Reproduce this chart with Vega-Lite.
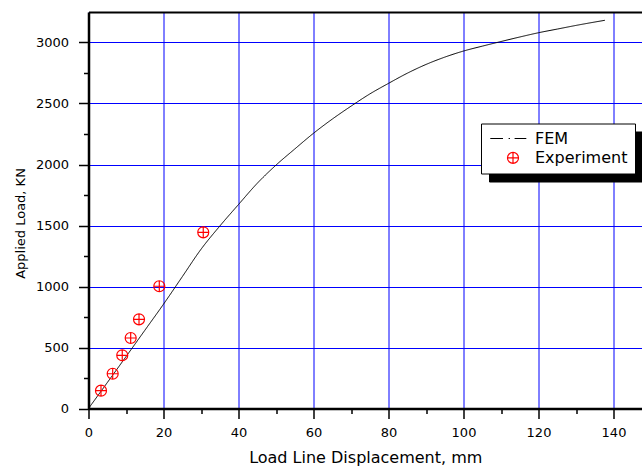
{
  "$schema": "https://vega.github.io/schema/vega-lite/v6.json",
  "width": 553.5,
  "height": 396.5,
  "autosize": {"type": "none"},
  "padding": {"left": 88.5, "top": 12, "right": 0, "bottom": 64.5},
  "background": "white",
  "config": {"view": {"stroke": null}, "font": "DejaVu Sans"},
  "datasets": {
    "fem": [
      {"disp": 0, "load": 0, "series": "FEM"},
      {"disp": 5, "load": 212, "series": "FEM"},
      {"disp": 10, "load": 425, "series": "FEM"},
      {"disp": 15, "load": 640, "series": "FEM"},
      {"disp": 20, "load": 855, "series": "FEM"},
      {"disp": 25, "load": 1080, "series": "FEM"},
      {"disp": 30, "load": 1305, "series": "FEM"},
      {"disp": 35, "load": 1495, "series": "FEM"},
      {"disp": 40, "load": 1672, "series": "FEM"},
      {"disp": 45, "load": 1846, "series": "FEM"},
      {"disp": 50, "load": 1995, "series": "FEM"},
      {"disp": 55, "load": 2127, "series": "FEM"},
      {"disp": 60, "load": 2256, "series": "FEM"},
      {"disp": 65, "load": 2372, "series": "FEM"},
      {"disp": 70, "load": 2478, "series": "FEM"},
      {"disp": 75, "load": 2578, "series": "FEM"},
      {"disp": 80, "load": 2665, "series": "FEM"},
      {"disp": 85, "load": 2748, "series": "FEM"},
      {"disp": 90, "load": 2820, "series": "FEM"},
      {"disp": 95, "load": 2880, "series": "FEM"},
      {"disp": 100, "load": 2930, "series": "FEM"},
      {"disp": 105, "load": 2970, "series": "FEM"},
      {"disp": 110, "load": 3008, "series": "FEM"},
      {"disp": 115, "load": 3045, "series": "FEM"},
      {"disp": 120, "load": 3080, "series": "FEM"},
      {"disp": 125, "load": 3110, "series": "FEM"},
      {"disp": 130, "load": 3140, "series": "FEM"},
      {"disp": 137.7, "load": 3182, "series": "FEM"}
    ],
    "exp": [
      {"disp": 3.33, "load": 146, "series": "Experiment"},
      {"disp": 6.45, "load": 285, "series": "Experiment"},
      {"disp": 9.0, "load": 436, "series": "Experiment"},
      {"disp": 11.25, "load": 578, "series": "Experiment"},
      {"disp": 13.47, "load": 731, "series": "Experiment"},
      {"disp": 18.88, "load": 1002, "series": "Experiment"},
      {"disp": 30.6, "load": 1444, "series": "Experiment"}
    ]
  },
  "encoding": {
    "x": {
      "field": "disp", "type": "quantitative",
      "scale": {"domain": [0, 147.6], "nice": false, "zero": false},
      "axis": {
        "title": "Load Line Displacement, mm",
        "values": [0, 10, 20, 30, 40, 50, 60, 70, 80, 90, 100, 110, 120, 130, 140],
        "labelExpr": "datum.value % 20 === 0 ? datum.label : ''",
        "format": "d",
        "grid": true,
        "gridColor": "#0000ff",
        "gridWidth": 1,
        "gridOpacity": {"condition": {"test": "datum.value % 20 === 0", "value": 1}, "value": 0},
        "tickSize": {"condition": {"test": "datum.value % 20 === 0", "value": 10}, "value": 5},
        "tickWidth": 1.5,
        "tickColor": "black",
        "domainColor": "black",
        "domainWidth": 2.5,
        "labelFont": "DejaVu Sans",
        "labelFontSize": 13,
        "labelColor": "black",
        "labelPadding": 8,
        "labelFlush": false,
        "labelOverlap": false,
        "titleFont": "DejaVu Sans",
        "titleFontSize": 16,
        "titleFontWeight": "normal",
        "titleColor": "black",
        "titlePadding": 10
      }
    },
    "y": {
      "field": "load", "type": "quantitative",
      "scale": {"domain": [0, 3250], "nice": false, "zero": false},
      "axis": {
        "title": "Applied Load,  KN",
        "values": [0, 250, 500, 750, 1000, 1250, 1500, 1750, 2000, 2250, 2500, 2750, 3000, 3250],
        "labelExpr": "(datum.value % 500 === 0 && datum.value <= 3000) ? datum.label : ''",
        "format": "d",
        "grid": true,
        "gridColor": {"condition": {"test": "datum.value === 3250", "value": "black"}, "value": "#0000ff"},
        "gridWidth": {"condition": {"test": "datum.value === 3250", "value": 2}, "value": 1},
        "gridOpacity": {"condition": {"test": "datum.value % 500 === 0 || datum.value === 3250", "value": 1}, "value": 0},
        "tickSize": {"condition": {"test": "datum.value % 500 === 0", "value": 10}, "value": 5},
        "tickOpacity": {"condition": {"test": "datum.value === 3250", "value": 0}, "value": 1},
        "tickWidth": 1.5,
        "tickColor": "black",
        "domainColor": "black",
        "domainWidth": 2.5,
        "labelFont": "DejaVu Sans",
        "labelFontSize": 13,
        "labelColor": "black",
        "labelPadding": 10,
        "labelFlush": false,
        "labelOverlap": false,
        "titleFont": "DejaVu Sans",
        "titleFontSize": 13,
        "titleFontWeight": "normal",
        "titleColor": "black",
        "titlePadding": 8,
        "titleY": 211
      }
    }
  },
  "layer": [
    {
      "data": {"name": "fem"},
      "mark": {"type": "line", "strokeWidth": 1, "clip": true, "interpolate": "monotone"},
      "encoding": {
        "color": {
          "field": "series", "type": "nominal",
          "scale": {"domain": ["FEM", "Experiment"], "range": ["black", "red"]},
          "legend": {
            "orient": "none", "legendX": 392.5, "legendY": 111.5, "title": null,
            "fillColor": "white", "strokeColor": "black", "padding": 7,
            "labelFont": "DejaVu Sans", "labelFontSize": 16, "labelColor": "black",
            "symbolSize": 121, "symbolStrokeWidth": 1.2, "symbolFillColor": "transparent",
            "symbolOffset": 17, "labelOffset": 14, "rowPadding": 3.4, "zindex": 2
          }
        },
        "strokeDash": {
          "field": "series", "type": "nominal",
          "scale": {"domain": ["Experiment", "FEM"], "range": [[1, 0], [1, 0]]},
          "legend": {
            "orient": "none", "legendX": 400.5, "legendY": 119.5, "title": null,
            "fillColor": "black", "strokeColor": "black", "padding": 7,
            "labelFont": "DejaVu Sans", "labelFontSize": 16, "labelColor": "black",
            "symbolType": "circle",
            "symbolSize": 121, "symbolStrokeWidth": 1.2, "symbolOpacity": 0,
            "symbolOffset": 17, "labelOffset": 14, "rowPadding": 3.4, "zindex": 1
          }
        }
      }
    },
    {
      "data": {"name": "exp"},
      "mark": {"type": "point", "filled": false, "size": 121, "strokeWidth": 1.2, "opacity": 1},
      "encoding": {
        "color": {
          "field": "series", "type": "nominal",
          "scale": {"domain": ["FEM", "Experiment"], "range": ["black", "red"]},
          "legend": {
            "orient": "none", "legendX": 392.5, "legendY": 111.5, "title": null,
            "fillColor": "white", "strokeColor": "black", "padding": 7,
            "labelFont": "DejaVu Sans", "labelFontSize": 16, "labelColor": "black",
            "symbolSize": 121, "symbolStrokeWidth": 1.2, "symbolFillColor": "transparent",
            "symbolOffset": 17, "labelOffset": 14, "rowPadding": 3.4, "zindex": 2
          }
        },
        "shape": {
          "field": "series", "type": "nominal",
          "scale": {
            "domain": ["FEM", "Experiment"],
            "range": ["M-4.13,0L-1.82,0M-0.8,0L-0.55,0M0.29,0L2.42,0", "M-1,0A1,1,0,1,1,1,0A1,1,0,1,1,-1,0ZM-1,0L1,0M0,-1L0,1"]
          },
          "legend": {
            "orient": "none", "legendX": 392.5, "legendY": 111.5, "title": null,
            "fillColor": "white", "strokeColor": "black", "padding": 7,
            "labelFont": "DejaVu Sans", "labelFontSize": 16, "labelColor": "black",
            "symbolSize": 121, "symbolStrokeWidth": 1.2, "symbolFillColor": "transparent",
            "symbolOffset": 17, "labelOffset": 14, "rowPadding": 3.4, "zindex": 2
          }
        }
      }
    }
  ]
}
